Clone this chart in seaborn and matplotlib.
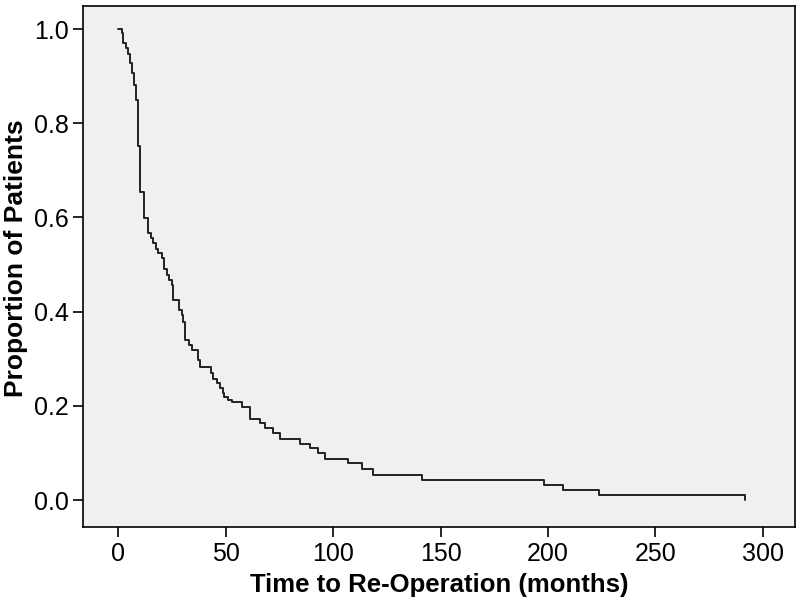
import matplotlib
matplotlib.use("Agg")
import matplotlib.pyplot as plt
import seaborn as sns
import pandas as pd

# Kaplan-Meier style step points (months, proportion)
time_months = [0, 1.7, 2.5, 3.6, 4.5, 5.6, 6.5, 7.4, 8.4, 9.4,
               10.2, 12.2, 14.1, 15.2, 16.4, 17.5, 18.8, 20.3, 21.6, 22.9,
               23.9, 25.0, 25.4, 28.5, 29.6, 30.4, 31.2, 33.2, 34.3, 37.4,
               38.1, 43.2, 44.3, 45.9, 47.4, 48.6, 49.4, 51.0, 53.2, 57.5,
               61.4, 66.0, 68.4, 72.2, 75.3, 84.7, 89.3, 93.2, 96.3, 107.1,
               113.3, 118.8, 141.3, 198.1, 207.1, 223.9, 291.6]
proportion = [1.0, 0.992, 0.970, 0.959, 0.948, 0.927, 0.906, 0.881, 0.849, 0.751,
              0.655, 0.598, 0.566, 0.556, 0.545, 0.534, 0.524, 0.513, 0.490, 0.478,
              0.467, 0.456, 0.425, 0.403, 0.393, 0.379, 0.340, 0.329, 0.318, 0.297,
              0.283, 0.270, 0.258, 0.248, 0.237, 0.227, 0.219, 0.213, 0.209, 0.198,
              0.173, 0.163, 0.152, 0.142, 0.129, 0.120, 0.110, 0.100, 0.087, 0.078,
              0.065, 0.054, 0.043, 0.032, 0.021, 0.011, 0.0]

x_ticks = [0, 50, 100, 150, 200, 250, 300]
y_ticks = [0.0, 0.2, 0.4, 0.6, 0.8, 1.0]
x_label = "Time to Re-Operation (months)"
y_label = "Proportion of Patients"

sns.set_style("ticks", {"axes.facecolor": "#F0F0F0", "axes.edgecolor": "black",
                        "axes.labelcolor": "black", "text.color": "black"})
plt.rcParams["font.family"] = ["Liberation Sans", "DejaVu Sans"]

df = pd.DataFrame({"t": time_months, "s": proportion})

fig = plt.figure(figsize=(8.0, 6.08), dpi=100)
ax = fig.add_axes([83 / 800, 1 - 527 / 608, (795 - 83) / 800, (527 - 6) / 608])

sns.lineplot(data=df, x="t", y="s", drawstyle="steps-post", estimator=None,
             color="#222222", linewidth=1.4, ax=ax)

ax.set_xlim(-16.3, 314.9)
ax.set_ylim(-0.0573, 1.049)
ax.set_xticks(x_ticks)
ax.set_xticklabels([str(v) for v in x_ticks])
ax.set_yticks(y_ticks)
ax.set_yticklabels([f"{v:.1f}" for v in y_ticks])
ax.tick_params(axis="both", direction="out", length=7, width=1.2, labelsize=18,
               colors="black")
ax.tick_params(axis="x", pad=4)
ax.tick_params(axis="y", pad=3)
for side in ["top", "right", "left", "bottom"]:
    ax.spines[side].set_visible(True)
    ax.spines[side].set_linewidth(1.2)
    ax.spines[side].set_color("black")

ax.set_xlabel(x_label, fontsize=18.5, fontweight="bold", color="black")
ax.set_ylabel(y_label, fontsize=19, fontweight="bold", color="black")
ax.xaxis.set_label_coords(0.501, (527 - 573) / 521)
ax.yaxis.set_label_coords((28 - 83) / 712, 0.515)

fig.savefig("out.png", dpi=100, facecolor="white")
